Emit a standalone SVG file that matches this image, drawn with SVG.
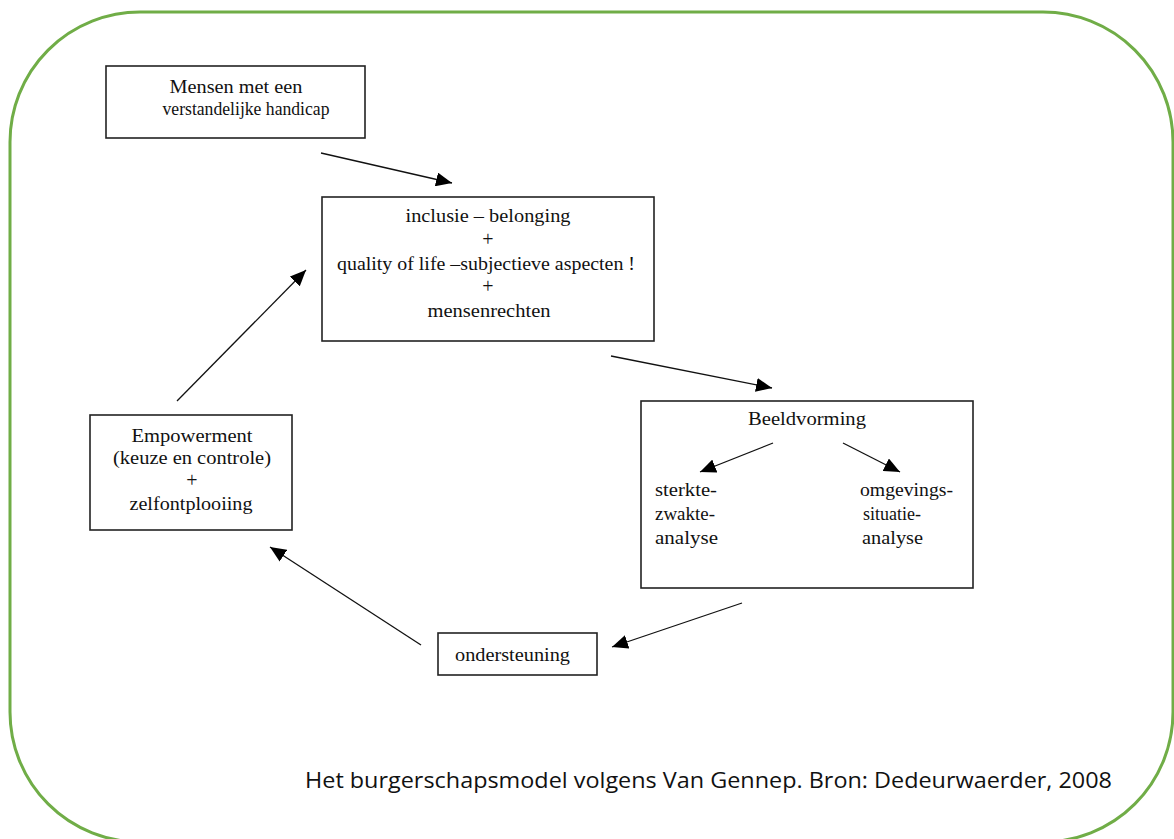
<svg xmlns="http://www.w3.org/2000/svg" width="1174" height="839" viewBox="0 0 1174 839">
<style>
.frame{fill:none;stroke:#70AD47;stroke-width:3}
.box{fill:#fff;stroke:#222;stroke-width:1.6}
.t{font-family:"Liberation Serif","Times New Roman",serif;font-size:18px;fill:#111}
.p{font-size:20px}
.c{text-anchor:middle}
.cap{font-family:"Open Sans","Liberation Sans",sans-serif;font-size:21px;fill:#111}
.ln{stroke:#111;stroke-width:1.3;fill:none;marker-end:url(#ah)}
</style>
<defs>
<marker id="ah" markerUnits="userSpaceOnUse" markerWidth="18" markerHeight="14" refX="16" refY="7" orient="auto">
<path d="M0,0 L16,7 L0,14 Z" fill="#000"/>
</marker>
</defs>
<rect class="frame" x="10" y="12" width="1163" height="830" rx="130" ry="130"/>
<g id="connectors">
<line class="ln" x1="321" y1="153" x2="452" y2="183"/>
<line class="ln" x1="611" y1="356" x2="772" y2="388"/>
<line class="ln" x1="742" y1="603" x2="612" y2="647"/>
<line class="ln" x1="421" y1="645" x2="270" y2="547"/>
<line class="ln" x1="177" y1="401" x2="306" y2="270"/>
</g>
<g id="n-mensen">
<rect class="box" x="106" y="66" width="259" height="72"/>
<text class="t c" x="236" y="93" textLength="133" lengthAdjust="spacingAndGlyphs">Mensen met een</text>
<text class="t c" x="246" y="115" textLength="167" lengthAdjust="spacingAndGlyphs">verstandelijke handicap</text>
</g>
<g id="n-inclusie">
<rect class="box" x="322" y="197" width="332" height="144"/>
<text class="t c" x="488" y="222" textLength="165" lengthAdjust="spacingAndGlyphs">inclusie – belonging</text>
<text class="t p c" x="488" y="246">+</text>
<text class="t c" x="486" y="270" textLength="298" lengthAdjust="spacingAndGlyphs">quality of life –subjectieve aspecten !</text>
<text class="t p c" x="488" y="293">+</text>
<text class="t c" x="489" y="317" textLength="123" lengthAdjust="spacingAndGlyphs">mensenrechten</text>
</g>
<g id="n-beeldvorming">
<rect class="box" x="641" y="401" width="332" height="187"/>
<text class="t c" x="807" y="425" textLength="118" lengthAdjust="spacingAndGlyphs">Beeldvorming</text>
<line class="ln" x1="773" y1="443" x2="700" y2="472"/>
<line class="ln" x1="843" y1="443" x2="900" y2="472"/>
<text class="t" x="655" y="496" textLength="62" lengthAdjust="spacingAndGlyphs">sterkte-</text>
<text class="t" x="655" y="520" textLength="60" lengthAdjust="spacingAndGlyphs">zwakte-</text>
<text class="t" x="655" y="544" textLength="63" lengthAdjust="spacingAndGlyphs">analyse</text>
<text class="t" x="860" y="496" textLength="93" lengthAdjust="spacingAndGlyphs">omgevings-</text>
<text class="t" x="863" y="520" textLength="58" lengthAdjust="spacingAndGlyphs">situatie-</text>
<text class="t" x="862" y="544" textLength="61" lengthAdjust="spacingAndGlyphs">analyse</text>
</g>
<g id="n-empowerment">
<rect class="box" x="90" y="415" width="202" height="115"/>
<text class="t c" x="192" y="442" textLength="121" lengthAdjust="spacingAndGlyphs">Empowerment</text>
<text class="t c" x="192" y="464" textLength="158" lengthAdjust="spacingAndGlyphs">(keuze en controle)</text>
<text class="t p c" x="192" y="487">+</text>
<text class="t c" x="191" y="510" textLength="123" lengthAdjust="spacingAndGlyphs">zelfontplooiing</text>
</g>
<g id="n-ondersteuning">
<rect class="box" x="438" y="633" width="159" height="42"/>
<text class="t" x="455" y="661" textLength="115" lengthAdjust="spacingAndGlyphs">ondersteuning</text>
</g>
<text class="cap" x="305" y="788" textLength="807" lengthAdjust="spacingAndGlyphs">Het burgerschapsmodel volgens Van Gennep. Bron: Dedeurwaerder, 2008</text>
</svg>
